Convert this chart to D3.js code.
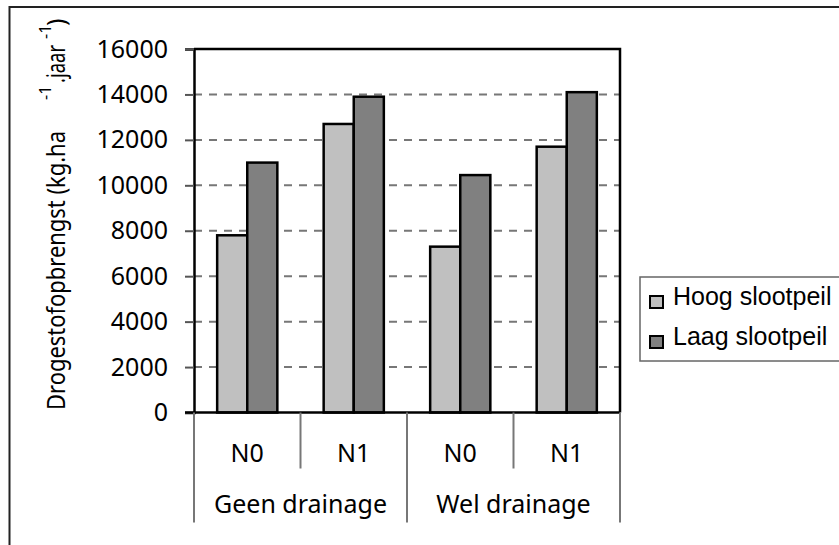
<!DOCTYPE html>
<html>
<head>
<meta charset="utf-8">
<script src="https://cdn.jsdelivr.net/npm/d3@7"></script>
<style>
  body { margin: 0; background: #fff; }
  svg { display: block; }
</style>
</head>
<body>
<svg id="chart" width="839" height="545"></svg>
<script>
// data
const groups = ["Geen drainage", "Wel drainage"];
const nLevels = ["N0", "N1", "N0", "N1"];
const series = ["Hoog slootpeil", "Laag slootpeil"];
const hoog = [7800, 12700, 7300, 11700];
const laag = [11000, 13900, 10450, 14100];
const yTicks = [0, 2000, 4000, 6000, 8000, 10000, 12000, 14000, 16000];
const colors = ["#c0c0c0", "#808080"];

const axisFont = "'Noto Sans', 'Open Sans', sans-serif";
const legendFont = "'Liberation Sans', Arial, sans-serif";

const svg = d3.select("#chart");
const plot = { left: 194, right: 620, top: 49, bottom: 412.5 };

// outer chart border (runs off the right and bottom of the picture)
svg.append("rect")
  .attr("x", 9.5).attr("y", 7)
  .attr("width", 900).attr("height", 600)
  .attr("fill", "#fff")
  .attr("stroke", "#222")
  .attr("stroke-width", 2);

const x0 = d3.scaleBand()
  .domain(d3.range(nLevels.length))
  .range([plot.left, plot.right])
  .paddingInner(0).paddingOuter(0);

const x1 = d3.scaleBand()
  .domain(series)
  .range([0, x0.bandwidth()])
  .paddingInner(0)
  .paddingOuter(0.77);

const y = d3.scaleLinear()
  .domain([0, 16000])
  .range([plot.bottom, plot.top]);

// gridlines
svg.append("g")
  .selectAll("line")
  .data(yTicks.filter(d => d > 0 && d < 16000))
  .join("line")
  .attr("x1", plot.left).attr("x2", plot.right)
  .attr("y1", d => y(d)).attr("y2", d => y(d))
  .attr("stroke", "#777")
  .attr("stroke-width", 2)
  .attr("stroke-dasharray", "8,7");

// plot area frame (top / right)
svg.append("path")
  .attr("d", `M${plot.left},${plot.top}H${plot.right}V${plot.bottom}`)
  .attr("fill", "none")
  .attr("stroke", "#000")
  .attr("stroke-width", 2.5);

// bars
const rows = nLevels.map((n, i) => ({ i, values: [hoog[i], laag[i]] }));
svg.append("g")
  .selectAll("g")
  .data(rows)
  .join("g")
  .attr("transform", d => `translate(${x0(d.i)},0)`)
  .selectAll("rect")
  .data(d => d.values.map((v, k) => ({ key: series[k], v, k })))
  .join("rect")
  .attr("x", d => x1(d.key))
  .attr("width", x1.bandwidth())
  .attr("y", d => y(d.v))
  .attr("height", d => y(0) - y(d.v))
  .attr("fill", d => colors[d.k])
  .attr("stroke", "#000")
  .attr("stroke-width", 2.5);

// y axis
const yAxis = svg.append("g")
  .attr("transform", `translate(${plot.left},0)`)
  .call(d3.axisLeft(y).tickValues(yTicks).tickSize(9).tickPadding(17).tickFormat(d3.format("d")));
yAxis.select(".domain").attr("stroke", "#000").attr("stroke-width", 2.5);
yAxis.selectAll(".tick line").attr("stroke", "#555").attr("stroke-width", 2);
yAxis.selectAll("text")
  .attr("font-family", axisFont)
  .attr("font-size", 25)
  .attr("fill", "#000");

// x axis line
svg.append("line")
  .attr("x1", plot.left - 9).attr("x2", plot.right)
  .attr("y1", plot.bottom).attr("y2", plot.bottom)
  .attr("stroke", "#000")
  .attr("stroke-width", 2.5);

// category separators: short between N levels, long between groups
const seps = d3.range(nLevels.length + 1);
svg.append("g")
  .selectAll("line")
  .data(seps)
  .join("line")
  .attr("x1", d => d < nLevels.length ? x0(d) : plot.right)
  .attr("x2", d => d < nLevels.length ? x0(d) : plot.right)
  .attr("y1", plot.bottom)
  .attr("y2", d => d % 2 === 0 ? plot.bottom + 110 : plot.bottom + 56)
  .attr("stroke", "#777")
  .attr("stroke-width", 2);

svg.append("g")
  .selectAll("text")
  .data(nLevels)
  .join("text")
  .attr("x", (d, i) => x0(i) + x0.bandwidth() / 2)
  .attr("y", 462)
  .attr("text-anchor", "middle")
  .attr("font-family", axisFont)
  .attr("font-size", 25)
  .text(d => d);

svg.append("g")
  .selectAll("text")
  .data(groups)
  .join("text")
  .attr("x", (d, i) => x0(i * 2) + x0.bandwidth())
  .attr("y", 513)
  .attr("text-anchor", "middle")
  .attr("font-family", axisFont)
  .attr("font-size", 25)
  .text(d => d);

// y axis title, pieces placed like the original (with its odd gap);
// the original face is narrower than Noto Sans, so lengths are pinned
const title = svg.append("g")
  .attr("transform", "translate(65,0) rotate(-90)")
  .attr("font-family", axisFont)
  .attr("fill", "#000");
title.append("text").attr("x", -410).attr("y", 0).attr("font-size", 25)
  .attr("textLength", 279).attr("lengthAdjust", "spacingAndGlyphs")
  .text("Drogestofopbrengst (kg.ha");
title.append("text").attr("x", -100).attr("y", -14).attr("font-size", 16).text("-1");
title.append("text").attr("x", -83).attr("y", 0).attr("font-size", 25)
  .attr("textLength", 38).attr("lengthAdjust", "spacingAndGlyphs")
  .text(".jaar");
title.append("text").attr("x", -39).attr("y", -14).attr("font-size", 16).text("-1");
title.append("text").attr("x", -26).attr("y", 0).attr("font-size", 25).text(")");

// legend
const legend = svg.append("g");
legend.append("rect")
  .attr("x", 640).attr("y", 277)
  .attr("width", 260).attr("height", 84)
  .attr("fill", "#fff")
  .attr("stroke", "#666")
  .attr("stroke-width", 1.5);
const items = legend.selectAll("g.item")
  .data(series)
  .join("g")
  .attr("class", "item")
  .attr("transform", (d, i) => `translate(650,${296 + i * 40})`);
items.append("rect")
  .attr("width", 13).attr("height", 12)
  .attr("fill", (d, i) => colors[i])
  .attr("stroke", "#000")
  .attr("stroke-width", 2);
items.append("text")
  .attr("x", 23).attr("y", 9)
  .attr("font-family", legendFont)
  .attr("font-size", 25)
  .text(d => d);
</script>
</body>
</html>
